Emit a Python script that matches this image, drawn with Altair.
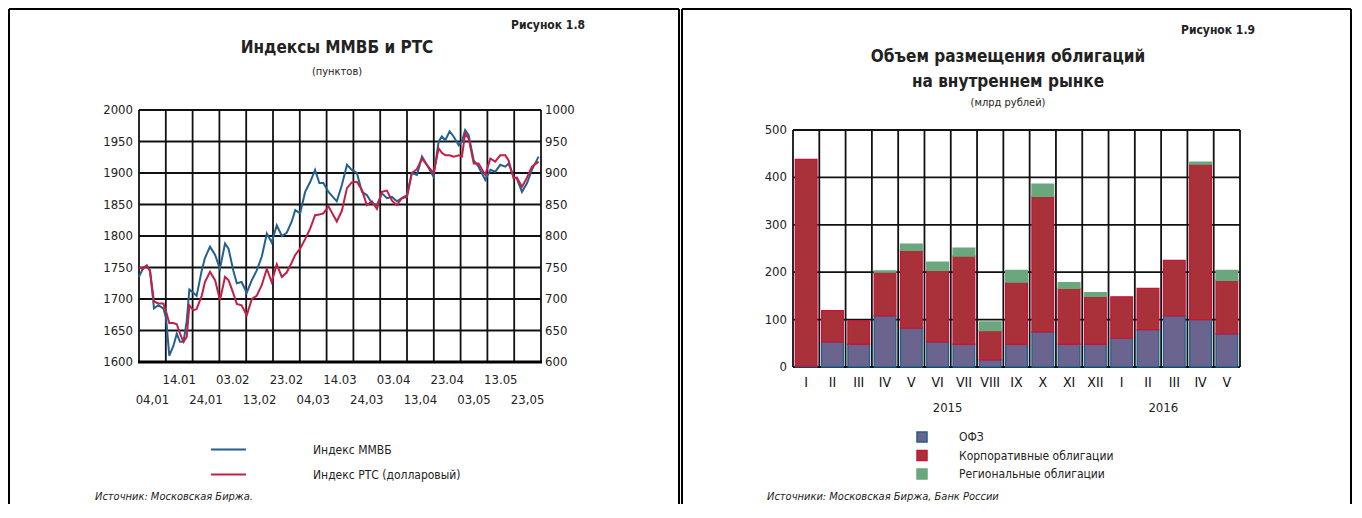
import altair as alt
import pandas as pd

FONT = "Liberation Sans Narrow, DejaVu Sans Condensed, Arial Narrow, sans-serif"
TXT = "#222222"
GRID = "#111111"
GW = 1.8

# ---------------- Figure 1.8: MICEX & RTS indices ----------------
days = [0, 1.6, 2.9, 4.1, 5.6, 7.2, 9.1, 10.1, 11.3, 12.8, 14.1, 15.3, 16.6, 17.8, 18.8,
        20.3, 21.5, 23.4, 24.6, 26.5, 28.4, 30.2, 32.1, 33.4, 35.2, 36.5, 38.3, 40.2, 42.1,
        43.9, 45.8, 47.7, 49.5, 51.4, 53.3, 55.1, 57.0, 58.3, 60.1, 62.0, 63.9, 65.7, 67.3,
        68.8, 70.7, 73.8, 75.7, 77.6, 79.4, 81.3, 83.2, 85.0, 86.9, 88.8, 90.6, 92.5, 94.4,
        96.2, 98.1, 100, 101.8, 103.7, 105.6, 107.4, 109.9, 111.8, 113.0, 114.3, 115.9, 117.4,
        119.3, 120.5, 121.7, 123.0, 124.9, 126.7, 129.2, 131.1, 132.9, 134.8, 136.7, 137.9,
        139.8, 141.0, 142.9, 144.8, 146.6, 149.1]
micex = [1735, 1750, 1753, 1745, 1685, 1690, 1685, 1670, 1610, 1625, 1645, 1632, 1632, 1665, 1715,
         1710, 1705, 1745, 1765, 1783, 1770, 1748, 1788, 1780, 1745, 1725, 1727, 1710, 1730,
         1745, 1767, 1804, 1790, 1817, 1800, 1805, 1823, 1841, 1836, 1870, 1886, 1905, 1884,
         1884, 1870, 1855, 1881, 1913, 1905, 1900, 1870, 1865, 1852, 1849, 1868, 1860, 1862,
         1855, 1860, 1865, 1900, 1897, 1926, 1913, 1894, 1950, 1958, 1952, 1966, 1958,
         1944, 1950, 1968, 1960, 1920, 1910, 1889, 1905, 1902, 1913, 1910, 1915,
         1894, 1891, 1870, 1884, 1905, 1926]
rts = [750, 748, 753, 745, 696, 693, 693, 680, 662, 662, 660, 645, 632, 640, 690,
       682, 684, 705, 727, 743, 730, 698, 735, 730, 709, 692, 690, 674, 700,
       705, 722, 748, 727, 755, 735, 742, 758, 770, 780, 795, 812, 833, 834,
       836, 847, 823, 840, 876, 885, 886, 873, 849, 855, 843, 870, 872, 856,
       849, 860, 862, 900, 906, 923, 913, 900, 939, 932, 928, 928, 926,
       928, 926, 963, 955, 915, 915, 897, 923, 918, 928, 928, 920,
       891, 893, 878, 893, 910, 918]
line_series = ["Индекс ММВБ", "Индекс РТС (долларовый)"]
line_colors = ["#23618e", "#c41f47"]
micex_ticks = list(range(1600, 2001, 50))
rts_ticks = list(range(600, 1001, 50))
xgrid_days = list(range(0, 151, 10))
xlab_days = [5 + 10 * i for i in range(15)]
xlab_text = ["04,01", "14.01", "24,01", "03.02", "13,02", "23.02", "04,03", "14.03",
             "24,03", "03.04", "13,04", "23.04", "03,05", "13.05", "23,05"]

# ---------------- Figure 1.9: bond placements ----------------
months = ["I", "II", "III", "IV", "V", "VI", "VII", "VIII", "IX", "X", "XI", "XII",
          "I", "II", "III", "IV", "V"]
years = [2015] * 12 + [2016] * 5
ofz = [2, 53, 48, 108, 82, 53, 48, 15, 48, 74, 48, 48, 61, 79, 108, 100, 70]
corp = [436, 66, 50, 92, 164, 151, 186, 62, 131, 286, 118, 101, 87, 87, 117, 328, 113]
regional = [0, 0, 0, 3, 13, 17, 17, 18, 25, 26, 12, 8, 0, 0, 0, 4, 21]
bond_series = ["ОФЗ", "Корпоративные облигации", "Региональные облигации"]
bond_fill = ["#6b648f", "#a8313a", "#6ba77c"]
bond_stroke = ["#1f5f8b", "#c8143a", "#6ba77c"]
bar_ticks = [0, 100, 200, 300, 400, 500]

# ---------------- layout (pixels in the single canvas) ----------------
LX0, LX1, LYT, LYB = 131, 533, 102, 354      # left plot area
RX0, RX1, RYT, RYB = 785, 1232, 122, 359     # right plot area
CW, CH = 1345, 496

sx = alt.Scale(domain=[0, 150], range=[LX0, LX1], nice=False, zero=False)
sym = alt.Scale(domain=[1600, 2000], range=[LYB, LYT], nice=False, zero=False)
syr = alt.Scale(domain=[600, 1000], range=[LYB, LYT], nice=False, zero=False)
keys = [f"{y}-{m}" for y, m in zip(years, months)]
sxb = alt.Scale(domain=keys, range=[RX0, RX1], paddingInner=0.175, paddingOuter=0.0875)
sxg = alt.Scale(domain=[0, len(keys)], range=[RX0, RX1], nice=False, zero=False)
syb = alt.Scale(domain=[0, 500], range=[RYB, RYT], nice=False, zero=False)

one = alt.Data(values=[{"a": 1}])


def txt(s, x, y, size=12, weight="normal", align="center", style="normal"):
    return alt.Chart(one).mark_text(fontSize=size, fontWeight=weight, align=align,
                                    fontStyle=style, baseline="middle", color=TXT).encode(
        x=alt.value(x), y=alt.value(y), text=alt.value(s))


def vline(x, y1, y2, w=2):
    return alt.Chart(one).mark_rule(color="black", strokeWidth=w).encode(
        x=alt.value(x), y=alt.value(y1), y2=alt.value(y2))


def hline(x1, x2, y, w=2):
    return alt.Chart(one).mark_rule(color="black", strokeWidth=w).encode(
        x=alt.value(x1), x2=alt.value(x2), y=alt.value(y))


# --- left chart layers ---
df_m = pd.DataFrame({"day": days, "value": micex, "series": line_series[0]})
df_r = pd.DataFrame({"day": days, "value": rts, "series": line_series[1]})
df_lab = pd.DataFrame({"day": xlab_days, "t": xlab_text, "row": [i % 2 for i in range(15)]})
df_mt = pd.DataFrame({"v": micex_ticks, "t": [str(v) for v in micex_ticks]})
df_rt = pd.DataFrame({"v": rts_ticks, "t": [str(v) for v in rts_ticks]})
df_xg = pd.DataFrame({"day": xgrid_days})

col = alt.Color("series:N", scale=alt.Scale(domain=line_series, range=line_colors),
                legend=alt.Legend(orient="none", legendX=202, legendY=423, title=None,
                                  symbolType="stroke", symbolSize=1225, symbolStrokeWidth=2,
                                  labelOffset=66, rowPadding=-15, labelFontSize=12, padding=0,
                                  labelColor=TXT, labelFont=FONT))

l_hgrid = alt.Chart(df_mt).mark_rule(color=GRID, strokeWidth=GW).encode(
    y=alt.Y("v:Q", scale=sym, axis=None), x=alt.value(LX0), x2=alt.value(LX1))
l_vgrid = alt.Chart(df_xg).mark_rule(color=GRID, strokeWidth=GW).encode(
    x=alt.X("day:Q", scale=sx, axis=None), y=alt.value(LYT), y2=alt.value(LYB))
l_base = hline(LX0 - 1, LX1 + 1, LYB, 3)
l_micex = alt.Chart(df_m).mark_line(strokeWidth=2).encode(
    x=alt.X("day:Q", scale=sx, axis=None),
    y=alt.Y("value:Q", scale=sym, axis=None), color=col)
l_rts = alt.Chart(df_r).mark_line(strokeWidth=2).encode(
    x=alt.X("day:Q", scale=sx, axis=None),
    y=alt.Y("value:Q", scale=syr, axis=None), color=col)
l_ylab = alt.Chart(df_mt).mark_text(fontSize=13, align="right", color=TXT).encode(
    y=alt.Y("v:Q", scale=sym, axis=None), x=alt.value(LX0 - 6), text="t:N")
r_ylab = alt.Chart(df_rt).mark_text(fontSize=13, align="left", color=TXT).encode(
    y=alt.Y("v:Q", scale=syr, axis=None), x=alt.value(LX1 + 4), text="t:N")
lab_top = alt.Chart(df_lab[df_lab.row == 1]).mark_text(fontSize=13, color=TXT).encode(
    x=alt.X("day:Q", scale=sx, axis=None), y=alt.value(372), text="t:N")
lab_bot = alt.Chart(df_lab[df_lab.row == 0]).mark_text(fontSize=13, color=TXT).encode(
    x=alt.X("day:Q", scale=sx, axis=None), y=alt.value(392), text="t:N")

# --- right chart layers ---
rows = []
for k, a, b, c in zip(keys, ofz, corp, regional):
    for i, (s, v) in enumerate(zip(bond_series, [a, b, c])):
        if v > 0:
            rows.append({"key": k, "series": s, "value": v, "ord": i})
df_b = pd.DataFrame(rows)
df_bt = pd.DataFrame({"v": bar_ticks, "t": [str(v) for v in bar_ticks]})
df_bg = pd.DataFrame({"b": list(range(len(keys) + 1))})
df_ml = pd.DataFrame({"key": keys, "m": months})

leg2 = dict(orient="none", legendX=908, legendY=423, title=None, symbolType="square",
            symbolSize=100, symbolStrokeWidth=1.5, labelOffset=31, rowPadding=2.5,
            labelFontSize=12, padding=0, labelColor=TXT, labelFont=FONT)

b_hgrid = alt.Chart(df_bt).mark_rule(color=GRID, strokeWidth=GW).encode(
    y=alt.Y("v:Q", scale=syb, axis=None), x=alt.value(RX0), x2=alt.value(RX1))
b_vgrid = alt.Chart(df_bg).mark_rule(color=GRID, strokeWidth=GW).encode(
    x=alt.X("b:Q", scale=sxg, axis=None), y=alt.value(RYT), y2=alt.value(RYB))
bars = alt.Chart(df_b).mark_bar(strokeWidth=1.3).encode(
    x=alt.X("key:N", sort=keys, scale=sxb, axis=None),
    y=alt.Y("value:Q", stack="zero", scale=syb, axis=None),
    fill=alt.Fill("series:N", scale=alt.Scale(domain=bond_series, range=bond_fill),
                  legend=alt.Legend(**leg2)),
    stroke=alt.Stroke("series:N", scale=alt.Scale(domain=bond_series, range=bond_stroke),
                      legend=alt.Legend(**leg2)),
    order=alt.Order("ord:Q", sort="ascending"))
b_ylab = alt.Chart(df_bt).mark_text(fontSize=13, align="right", color=TXT).encode(
    y=alt.Y("v:Q", scale=syb, axis=None), x=alt.value(RX0 - 6), text="t:N")
b_xlab = alt.Chart(df_ml).mark_text(fontSize=14, color="#111111").encode(
    x=alt.X("key:N", sort=keys, scale=sxb, axis=None), y=alt.value(375), text="m:N")
y2015 = alt.Chart(pd.DataFrame({"key": ["2015-VI"], "t": ["2015"]})).mark_text(
    fontSize=13, color=TXT, dx=10).encode(
    x=alt.X("key:N", sort=keys, scale=sxb, axis=None), y=alt.value(400), text="t:N")
y2016 = alt.Chart(pd.DataFrame({"key": ["2016-III"], "t": ["2016"]})).mark_text(
    fontSize=13, color=TXT, dx=-11).encode(
    x=alt.X("key:N", sort=keys, scale=sxb, axis=None), y=alt.value(400), text="t:N")

chart = alt.layer(
    # frames
    vline(1, 1, CH), vline(671, 1, CH), vline(674, 1, CH), vline(1343, 1, CH),
    hline(1, 671, 1), hline(674, 1343, 1),
    # left figure
    l_hgrid, l_vgrid, l_base, l_micex, l_rts, l_ylab, r_ylab, lab_top, lab_bot,
    txt("Рисунок 1.8", 577, 17, 12, "bold", "right"),
    txt("Индексы ММВБ и РТС", 329, 40, 17, "bold"),
    txt("(пунктов)", 329, 64, 11),
    txt("Источник: Московская Биржа.", 87, 489, 11, "normal", "left", "italic"),
    # right figure
    b_hgrid, b_vgrid, bars, b_ylab, b_xlab, y2015, y2016,
    txt("Рисунок 1.9", 1247, 22, 12, "bold", "right"),
    txt("Объем размещения облигаций", 1000, 49, 17, "bold"),
    txt("на внутреннем рынке", 1000, 74, 17, "bold"),
    txt("(млрд рублей)", 1000, 95, 11),
    txt("Источники: Московская Биржа, Банк России", 759, 489, 11, "normal", "left", "italic"),
).resolve_scale(x="independent", y="independent").properties(
    width=CW, height=CH, padding=0, autosize=alt.AutoSizeParams(type="none")
).configure_text(font=FONT).configure_view(stroke=None)

chart.save("out.html", embed_options={"renderer": "svg", "actions": False})
